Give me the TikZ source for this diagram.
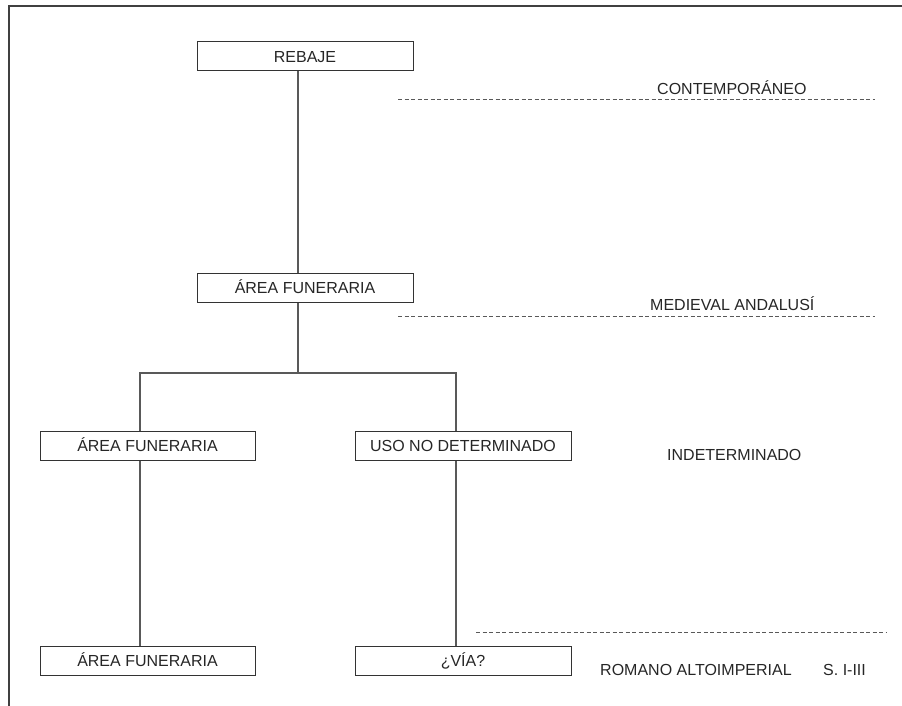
\documentclass[tikz,border=0pt]{standalone}
\usepackage{fontspec}
\setmainfont{Liberation Sans}
\tikzset{
  unit/.style={draw=black!80, line width=1pt, minimum width=216pt,
    minimum height=29pt, inner sep=0pt, text height=11.5pt, text depth=0pt,
    text=black!85, font=\fontsize{16}{19}\selectfont},
  period/.style={anchor=base west, inner sep=0pt, text=black!85,
    font=\fontsize{16}{19}\selectfont},
  link/.style={draw=black!65, line width=1.1pt},
  limit/.style={draw=black!65, line width=1pt, dash pattern=on 4pt off 2.5pt}
}
\begin{document}
\begin{tikzpicture}[x=1pt,y=-1pt]
  \useasboundingbox (0,0) rectangle (902,706);
  % Frame
  \draw[line width=2pt, black!75] (9,706) -- (9,6) -- (902,6);

  % Units
  \node[unit] (rebaje) at (305,56.5) {REBAJE};
  \node[unit] (areaA) at (305,287.5) {ÁREA FUNERARIA};
  \node[unit, minimum width=215pt] (areaB) at (147.5,445.5) {ÁREA FUNERARIA};
  \node[unit] (uso) at (463,445.5) {USO NO DETERMINADO};
  \node[unit, minimum width=215pt] (areaC) at (147.5,660.5) {ÁREA FUNERARIA};
  \node[unit] (via) at (463,660.5) {¿VÍA?};

  % Relations
  \coordinate (fork) at (298,373);
  \draw[link] ([xshift=-7pt]rebaje.south) -- ([xshift=-7pt]areaA.north);
  \draw[link] ([xshift=-7pt]areaA.south) -- (fork);
  \draw[link] ([xshift=-7.5pt]areaB.north) |- (fork) -| ([xshift=-7pt]uso.north);
  \draw[link] ([xshift=-7.5pt]areaB.south) -- ([xshift=-7.5pt]areaC.north);
  \draw[link] ([xshift=-7pt]uso.south) -- ([xshift=-7pt]via.north);

  % Periods
  \draw[limit] (398,100) -- (875,100);
  \node[period] (contemp) at (657,95) {CONTEMPORÁNEO};
  \draw[limit] (398,316) -- (875,316);
  \node[period] (medieval) at (650,310) {MEDIEVAL ANDALUSÍ};
  \node[period] (indet) at (667,460) {INDETERMINADO};
  \draw[limit] (476,632) -- (886,632);
  \node[period] (romano) at (600,675) {ROMANO ALTOIMPERIAL};
  \node[period] (siglos) at (823,675) {S. I-III};
\end{tikzpicture}
\end{document}
